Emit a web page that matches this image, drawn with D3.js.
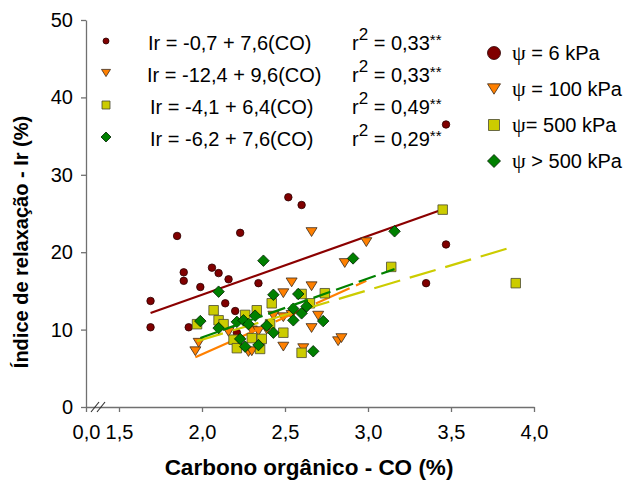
<!DOCTYPE html>
<html>
<head>
<meta charset="utf-8">
<script src="https://cdn.jsdelivr.net/npm/d3@7"></script>
<style>
  body { margin: 0; background: #fff; }
  svg { display: block; font-family: Arial, "Liberation Sans", sans-serif; }
</style>
</head>
<body>
<svg id="chart" width="638" height="482"></svg>
<script>
// Organic carbon (CO, %) and relaxation index (Ir, %) per water potential
const co6   = [1.69, 1.69, 1.85, 1.89, 1.89, 1.92, 1.99, 2.06, 2.10, 2.14, 2.16, 2.20, 2.21, 2.23, 2.34, 2.52, 2.60, 3.35, 3.47, 3.47];
const ir6   = [13.7, 10.3, 22.1, 17.4, 16.3, 10.3, 15.5, 18.0, 17.3, 13.4, 16.5, 12.4, 9.6, 22.5, 16.0, 27.1, 26.1, 16.0, 21.0, 36.5];

const co100 = [1.96, 1.98, 2.16, 2.28, 2.30, 2.30, 2.34, 2.39, 2.43, 2.49, 2.49, 2.49, 2.54, 2.54, 2.61, 2.66, 2.66, 2.66, 2.70, 2.82, 2.84, 2.86, 2.99];
const ir100 = [7.2, 8.3, 9.7, 7.1, 7.2, 9.9, 9.8, 10.0, 11.8, 7.8, 11.6, 14.7, 11.9, 16.1, 7.6, 10.2, 15.6, 22.6, 11.8, 8.5, 8.9, 18.6, 21.3];

const co500 = [1.97, 2.07, 2.10, 2.13, 2.19, 2.21, 2.26, 2.30, 2.33, 2.35, 2.36, 2.41, 2.42, 2.49, 2.60, 2.60, 2.65, 2.74, 3.14, 3.45, 3.89];
const ir500 = [10.7, 12.5, 11.2, 10.7, 8.7, 7.6, 11.9, 8.9, 12.5, 7.5, 8.8, 10.7, 13.4, 9.6, 7.0, 14.6, 13.4, 14.7, 18.1, 25.5, 16.0];

const coGt  = [1.99, 2.10, 2.10, 2.21, 2.23, 2.25, 2.26, 2.28, 2.32, 2.34, 2.37, 2.39, 2.43, 2.43, 2.55, 2.55, 2.58, 2.60, 2.63, 2.67, 2.73, 2.91, 3.16];
const irGt  = [11.1, 10.2, 14.9, 11.0, 8.8, 11.2, 7.8, 10.7, 11.8, 8.0, 18.9, 10.5, 9.6, 14.5, 11.2, 12.7, 14.6, 12.1, 13.0, 7.2, 11.1, 19.2, 22.7];

// Fitted equations Ir = a + b(CO)
const intercepts = [-0.7, -12.4, -4.1, -6.2];
const slopes     = [7.6, 9.6, 6.4, 7.6];
const r2Labels   = ["0,33", "0,33", "0,49", "0,29"];
const seriesNames = ["ψ = 6 kPa", "ψ = 100 kPa", "ψ= 500 kPa", "ψ > 500 kPa"];

const xTickValues = [0, 1.5, 2.0, 2.5, 3.0, 3.5, 4.0];
const yTickValues = [0, 10, 20, 30, 40, 50];

const series = [
  { co: co6,   ir: ir6,   shape: "circle",   fill: "#800000", stroke: "#2a0000", line: "#8b0000", dash: null },
  { co: co100, ir: ir100, shape: "triangle", fill: "#ff8000", stroke: "#3a2a1a", line: "#ff8000", dash: "37,7" },
  { co: co500, ir: ir500, shape: "square",   fill: "#cccc00", stroke: "#4a4a30", line: "#cccc00", dash: "27,10" },
  { co: coGt,  ir: irGt,  shape: "diamond",  fill: "#008000", stroke: "#002000", line: "#008000", dash: "18,6" }
];

const svg = d3.select("#chart");

// Broken x axis: 0 sits at the origin, then 1.5 to 4.0 spans the plot
const x = d3.scaleLinear().domain([0, 1.5, 4.0]).range([86, 119, 534]);
const y = d3.scaleLinear().domain([0, 50]).range([407, 20]);

const fmt = d => d.toFixed(1).replace(".", ",");

function markerPath(shape, s) {
  const h = s / 2;
  switch (shape) {
    case "circle":   return null;
    case "triangle": return `M${-h},${-h * 0.8}L${h},${-h * 0.8}L0,${h * 0.8}Z`;
    case "square":   return `M${-h},${-h}L${h},${-h}L${h},${h}L${-h},${h}Z`;
    case "diamond":  return `M0,${-h}L${h},0L0,${h}L${-h},0Z`;
  }
}

function drawMarker(g, sp, cx, cy, size) {
  if (sp.shape === "circle") {
    g.append("circle").attr("cx", cx).attr("cy", cy).attr("r", size / 2)
      .attr("fill", sp.fill).attr("stroke", sp.stroke).attr("stroke-width", 0.8);
  } else {
    g.append("path").attr("d", markerPath(sp.shape, size))
      .attr("transform", `translate(${cx},${cy})`)
      .attr("fill", sp.fill).attr("stroke", sp.stroke).attr("stroke-width", 0.8);
  }
}

// Axes
const yAxis = d3.axisLeft(y).tickValues(yTickValues).tickSize(5).tickSizeOuter(0).tickPadding(8)
  .tickFormat(d3.format("d"));
const xAxis = d3.axisBottom(x).tickValues(xTickValues).tickSize(5).tickSizeOuter(0).tickPadding(8)
  .tickFormat(fmt);

const gy = svg.append("g").attr("transform", "translate(86,0)").call(yAxis);
const gx = svg.append("g").attr("transform", "translate(0,407)").call(xAxis);

[gx, gy].forEach(g => {
  g.select(".domain").attr("stroke", "#707070").attr("stroke-width", 1.3);
  g.selectAll(".tick line").attr("stroke", "#707070").attr("stroke-width", 1.3);
  g.selectAll(".tick text").attr("fill", "#000").attr("font-size", 20)
    .attr("font-family", "Arial, 'Liberation Sans', sans-serif");
});
gx.selectAll(".tick text").attr("dy", "0.95em");

// Axis break marks
const brk = svg.append("g").attr("stroke", "#333").attr("stroke-width", 1.2);
[[91, 99], [97, 105]].forEach(([a, b]) => {
  brk.append("line").attr("x1", a).attr("y1", 412).attr("x2", b).attr("y2", 402);
});

// Points and fitted lines, series by series
const plot = svg.append("g");
series.forEach((sp, i) => {
  const gp = plot.append("g");
  sp.co.forEach((c, k) => {
    drawMarker(gp, sp, x(c), y(sp.ir[k]), sp.shape === "circle" ? 7.5 : sp.shape === "diamond" ? 11.5 : sp.shape === "triangle" ? 11 : 9.5);
  });
  const [x0, x1] = d3.extent(sp.co);
  const fit = v => intercepts[i] + slopes[i] * v;
  const ln = d3.line().x(d => x(d)).y(d => y(fit(d)));
  plot.append("path").attr("d", ln([x0, x1]))
    .attr("fill", "none").attr("stroke", sp.line).attr("stroke-width", 2.2)
    .attr("stroke-dasharray", sp.dash);
});

// Equation block
const eqRows = [41, 73, 105, 137];
const eqX = [148, 147, 150, 150];
const eq = svg.append("g").attr("font-size", 20).attr("fill", "#000");
series.forEach((sp, i) => {
  const cy = eqRows[i];
  const sz = sp.shape === "circle" ? 6 : sp.shape === "diamond" ? 10 : sp.shape === "triangle" ? 9 : 8;
  drawMarker(eq, sp, 106, cy, sz);
  const a = fmt(Math.abs(intercepts[i]));
  eq.append("text").attr("x", eqX[i]).attr("y", cy + 9)
    .text(`Ir = ${intercepts[i] < 0 ? "-" : ""}${a} + ${fmt(slopes[i])}(CO)`);
  const t = eq.append("text").attr("x", 352).attr("y", cy + 9);
  t.append("tspan").text("r");
  t.append("tspan").attr("dy", -10).attr("font-size", 17).text("2");
  t.append("tspan").attr("dy", 10).text(` = ${r2Labels[i]}`);
  t.append("tspan").attr("dy", -5).attr("font-size", 15).text("**");
});

// Legend
const lgRows = [53, 89, 125, 161];
const lg = svg.append("g").attr("font-size", 20).attr("fill", "#000");
series.forEach((sp, i) => {
  const cy = lgRows[i];
  const sz = sp.shape === "circle" ? 13 : sp.shape === "diamond" ? 13 : sp.shape === "triangle" ? 13 : 11;
  drawMarker(lg, sp, 494, cy, sz);
  const name = seriesNames[i];
  const t = lg.append("text").attr("x", 512).attr("y", cy + 7);
  t.append("tspan").attr("font-family", "'Liberation Serif', 'DejaVu Serif', serif").attr("font-size", 22).text(name[0]);
  t.append("tspan").text(name.slice(1));
});

// Axis titles
svg.append("text").attr("x", 309).attr("y", 475).attr("text-anchor", "middle")
  .attr("font-size", 22.5).attr("font-weight", "bold").text("Carbono orgânico - CO (%)");
svg.append("text").attr("transform", "translate(28,242) rotate(-90)").attr("text-anchor", "middle")
  .attr("font-size", 20).attr("font-weight", "bold").text("Índice de relaxação - Ir (%)");
</script>
</body>
</html>
